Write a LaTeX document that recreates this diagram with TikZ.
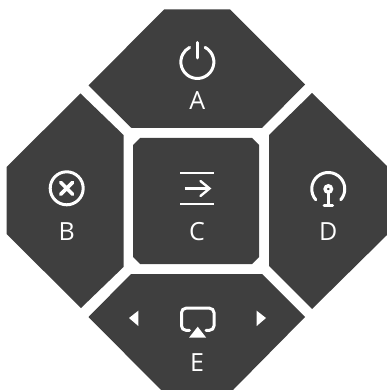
\documentclass[tikz,border=0pt]{standalone}
\usepackage{fontspec}
\setmainfont{Open Sans}
\tikzset{
	panel/.style={fill=panelgray,draw=none},
	glyph/.style={draw=white,line width=3pt},
	solidglyph/.style={fill=white,draw=none},
	keylabel/.style={text=white,anchor=base,inner sep=0pt,font=\fontsize{25}{25}\selectfont}
}
\definecolor{panelgray}{HTML}{3F3F3F}
\begin{document}
\begin{tikzpicture}[x=1pt,y=-1pt,line cap=round]
	\useasboundingbox (0,0) rectangle (387,390);
	% panels
	\fill[panel] (164,9.5)--(230,9.5)--(305,84.5)--(262,128)--(131.5,128)--(88.5,85.5)--cycle;
	\fill[panel] (80.5,93.5)--(123.5,135)--(123.5,267)--(81,308)--(6.5,234)--(6.5,167)--cycle;
	\fill[panel] (140,138)--(252,138)--(259,145)--(259,257)--(252,264)--(140,264)--(133,257)--(133,145)--cycle;
	\fill[panel] (312,93)--(387,166)--(387,235)--(312,309)--(269,266)--(269,135)--cycle;
	\fill[panel] (131,274)--(262,274)--(305,317)--(233,390)--(161,390)--(88.5,317)--cycle;
	% A power
	\draw[glyph] (197.3,42.5)--(197.3,58);
	\draw[glyph] (205.1,47.4) arc (-62:242:16.5);
	\node[keylabel] (keyA) at (197.3,110) {A};
	% B cancel
	\draw[glyph] (66.7,188.3) circle (16.5);
	\draw[glyph,line width=3.6pt] (60.7,182.3)--(72.7,194.3) (72.7,182.3)--(60.7,194.3);
	\node[keylabel] (keyB) at (66.7,240) {B};
	% C skip
	\draw[glyph,line width=2.4pt,line cap=butt] (180,173)--(214,173) (180,204)--(214,204);
	\draw[glyph,line width=2.4pt,line cap=butt] (184.5,188.5)--(209,188.5);
	\draw[glyph,line width=2.4pt] (200.5,181)--(209.5,188.5)--(200.5,196);
	\node[keylabel] (keyC) at (197,240) {C};
	% D antenna
	\draw[glyph] (315.8,199.8) arc (139:401:16.5);
	\draw[glyph,line width=3.4pt] (328.3,189) circle (3.2);
	\draw[glyph] (328.3,193)--(328.3,205);
	\draw[glyph] (324,205)--(332.6,205);
	\node[keylabel] (keyD) at (328.3,240) {D};
	% E airplay
	\draw[glyph,rounded corners=4.5pt] (189.5,330.3)--(181.5,330.3)--(181.5,308.2)--(214,308.2)--(214,330.3)--(206,330.3);
	\fill[solidglyph] (197.7,326.7)--(206.2,337.7)--(189,337.7)--cycle;
	\fill[solidglyph] (129,318)--(138.3,310.7)--(138.3,326)--cycle;
	\fill[solidglyph] (266,318)--(256.7,310.7)--(256.7,326)--cycle;
	\node[keylabel] (keyE) at (197,371) {E};
\end{tikzpicture}
\end{document}
